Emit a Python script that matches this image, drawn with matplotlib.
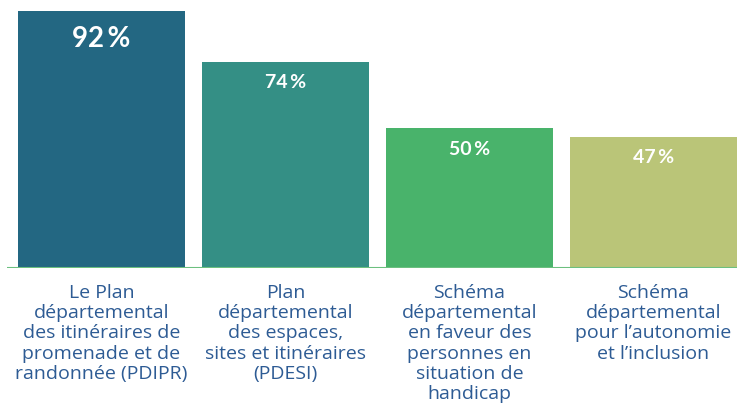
import matplotlib
matplotlib.use("Agg")
import matplotlib.pyplot as plt

# données
categories = [
    "Le Plan\ndépartemental\ndes itinéraires de\npromenade et de\nrandonnée (PDIPR)",
    "Plan\ndépartemental\ndes espaces,\nsites et itinéraires\n(PDESI)",
    "Schéma\ndépartemental\nen faveur des\npersonnes en\nsituation de\nhandicap",
    "Schéma\ndépartemental\npour l\u2019autonomie\net l\u2019inclusion",
]
values = [92, 74, 50, 47]
labels = ["92\u2009%", "74\u2009%", "50\u2009%", "47\u2009%"]

COLORS = ["#236782", "#348f85", "#49b36b", "#bac578"]
TEXT_COLOR = "#2d5b94"
BASE_COLOR = "#6cc07f"

plt.rcParams["font.family"] = ["Lato", "DejaVu Sans"]

fig = plt.figure(figsize=(7.37, 4.13), dpi=100)
ax = fig.add_axes([7 / 737, 145 / 413, 730 / 737, 268 / 413])

x = list(range(len(values)))
bars = ax.bar(x, values, width=167 / 184, color=COLORS, zorder=2)

ax.set_xlim(-0.5136, 3.454)
ax.set_ylim(0, 96.05)
ax.axis("off")
ax.axhline(0, color=BASE_COLOR, lw=1.5, zorder=3)

for i, (b, lab) in enumerate(zip(bars, labels)):
    big = i == 0
    ax.annotate(lab, (b.get_x() + b.get_width() / 2, b.get_height()),
                xytext=(0, -28 if big else -21), textcoords="offset pixels",
                ha="center", va="center", color="white", weight="bold",
                fontsize=20 if big else 14)

for i, cat in enumerate(categories):
    ax.annotate(cat, (i, 0), xytext=(0, -16), textcoords="offset pixels",
                ha="center", va="top", color=TEXT_COLOR, fontsize=14,
                family=["Open Sans", "DejaVu Sans"],
                linespacing=1.16, annotation_clip=False)

fig.savefig("out.png", dpi=100)
